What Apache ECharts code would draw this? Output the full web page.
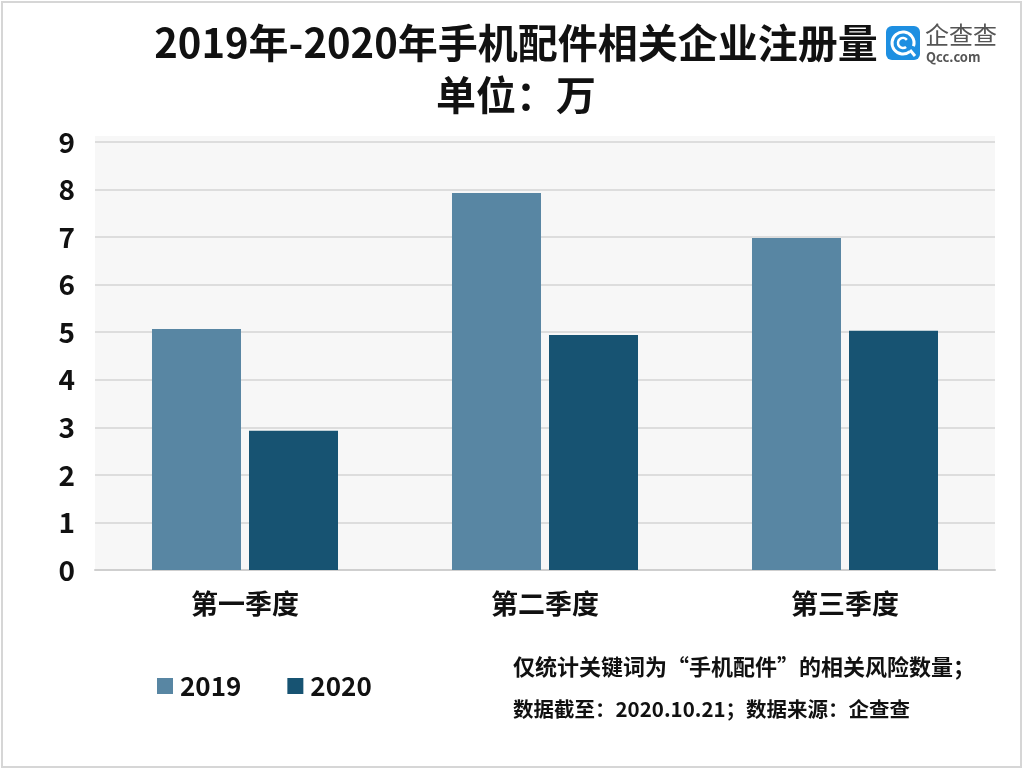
<!DOCTYPE html>
<html><head><meta charset="utf-8">
<script src="https://cdn.jsdelivr.net/npm/echarts@6/dist/echarts.min.js"></script>
<style>html,body{margin:0;padding:0;background:#fff}#c{width:1024px;height:770px}</style>
</head><body><div id="c"></div>
<script>
const categories = ['第一季度', '第二季度', '第三季度'];
const seriesNames = ['2019', '2020'];
const values2019 = [5.07, 7.93, 6.98];
const values2020 = [2.93, 4.94, 5.03];
const yTicks = [0, 1, 2, 3, 4, 5, 6, 7, 8, 9];
const titleText = '2019年-2020年手机配件相关企业注册量';
const subtitleText = '单位：万';
const noteLines = ['仅统计关键词为“手机配件”的相关风险数量；', '数据截至：2020.10.21；数据来源：企查查'];

const FONT = '"Noto Sans CJK SC", "Noto Sans", sans-serif';
const chart = echarts.init(document.getElementById('c'));
chart.setOption({
  backgroundColor: '#ffffff',
  animation: false,
  textStyle: { fontFamily: FONT },
  title: [
    { text: titleText, left: 511, top: 18, textAlign: 'center',
      textStyle: { fontSize: 40, fontWeight: 'bold', color: '#111', fontFamily: FONT } },
    { text: subtitleText, left: 511, top: 70, textAlign: 'center',
      textStyle: { fontSize: 40, fontWeight: 'bold', color: '#111', fontFamily: FONT } }
  ],
  legend: {
    data: seriesNames, left: 152, top: 668, itemWidth: 16, itemHeight: 16, itemGap: 46,
    icon: 'rect',
    textStyle: { fontSize: 26, fontWeight: 'bold', color: '#111', fontFamily: FONT, padding: [0, 0, 0, 2] }
  },
  grid: { left: 95, right: 29, top: 142, bottom: 200, show: true, backgroundColor: '#f7f7f7', borderWidth: 0, containLabel: false },
  xAxis: {
    type: 'category', data: categories,
    axisLine: { show: true, lineStyle: { color: '#cfcfcf', width: 2 } },
    axisTick: { show: false },
    axisLabel: { fontSize: 27, fontWeight: 'bold', color: '#111', margin: 20, fontFamily: FONT }
  },
  yAxis: {
    type: 'value', min: yTicks[0], max: yTicks[yTicks.length - 1], interval: 1,
    axisLine: { show: false }, axisTick: { show: false },
    splitLine: { lineStyle: { color: '#dddddd', width: 2 } },
    axisLabel: { fontSize: 28, fontWeight: 'bold', color: '#111', margin: 20, fontFamily: FONT }
  },
  series: [
    { name: seriesNames[0], type: 'bar', data: values2019, barWidth: 89, barGap: '9%',
      itemStyle: { color: '#5886a3' } },
    { name: seriesNames[1], type: 'bar', data: values2020, barWidth: 89,
      itemStyle: { color: '#175372' } }
  ],
  graphic: [
    { type: 'rect', z: -10, shape: { x: 95, y: 136, width: 900, height: 6 }, style: { fill: '#f7f7f7' }, silent: true },
    { type: 'rect', z: 100, shape: { x: 2, y: 2, width: 1019, height: 765 }, style: { fill: 'none', stroke: '#d6d6d6', lineWidth: 2 }, silent: true },
    { type: 'text', left: 513, top: 656, style: { text: noteLines[0], font: 'bold 22px ' + FONT, fill: '#111' } },
    { type: 'text', left: 513, top: 699, style: { text: noteLines[1], font: 'bold 20.5px ' + FONT, fill: '#111' } },
    { type: 'rect', shape: { x: 886, y: 26, width: 34, height: 34, r: 6 }, style: { fill: '#1e8fe1' } },
    { type: 'arc', shape: { cx: 903, cy: 43, r: 11, startAngle: 0.9, endAngle: 0.3 + Math.PI * 2 }, style: { stroke: '#fff', lineWidth: 3, fill: 'none' } },
    { type: 'arc', shape: { cx: 903, cy: 43, r: 5, startAngle: 0.9, endAngle: 5.6 }, style: { stroke: '#fff', lineWidth: 2.5, fill: 'none' } },
    { type: 'line', shape: { x1: 910, y1: 50, x2: 915, y2: 56 }, style: { stroke: '#fff', lineWidth: 3 } },
    { type: 'text', left: 925, top: 23, style: { text: '企查查', font: '24px ' + FONT, fill: '#555' } },
    { type: 'text', left: 926, top: 51, style: { text: 'Qcc.com', font: 'bold 13px ' + FONT, fill: '#555', letterSpacing: 3 } }
  ]
});
</script></body></html>
